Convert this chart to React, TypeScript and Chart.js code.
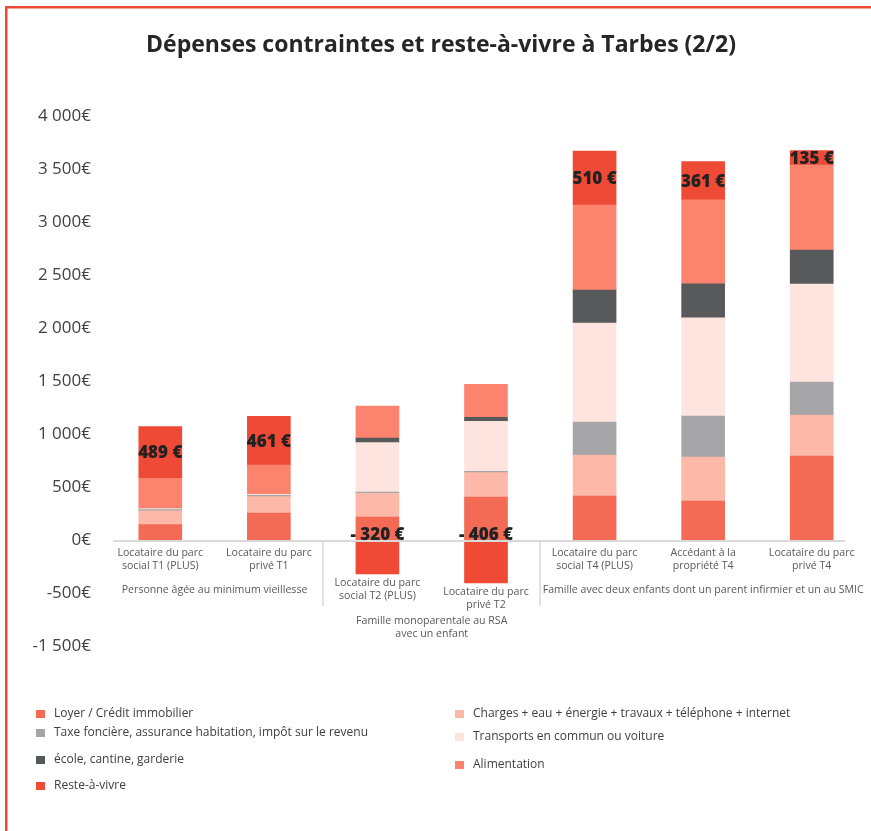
import React, { useEffect, useRef } from "react";
import { Chart, registerables } from "chart.js";

Chart.register(...registerables);

const TITLE = "Dépenses contraintes et reste-à-vivre à Tarbes (2/2)";

const categories: string[][] = [
  ["Locataire du parc", "social T1 (PLUS)"],
  ["Locataire du parc", "privé T1"],
  ["Locataire du parc", "social T2 (PLUS)"],
  ["Locataire du parc", "privé T2"],
  ["Locataire du parc", "social T4 (PLUS)"],
  ["Accédant à la", "propriété T4"],
  ["Locataire du parc", "privé T4"],
];

const groupLabels: string[][] = [
  ["Personne âgée au minimum vieillesse"],
  ["Famille monoparentale au RSA", "avec un enfant"],
  ["Famille avec deux enfants dont un parent infirmier et un au SMIC"],
];
const groupStart = [0, 2, 4];
const groupEnd = [1, 3, 6];

const seriesNames = [
  "Loyer / Crédit immobilier",
  "Charges + eau + énergie + travaux + téléphone + internet",
  "Taxe foncière, assurance habitation, impôt sur le revenu",
  "Transports en commun ou voiture",
  "école, cantine, garderie",
  "Alimentation",
  "Reste-à-vivre",
];
const seriesColors = ["#F36A55", "#FDB8A8", "#A6A6A8", "#FEE4DF", "#58595B", "#FC846E", "#EE4A36"];

const loyer = [145, 255, 217, 406, 415, 368, 792];
const charges = [130, 154, 224, 229, 387, 415, 387];
const taxe = [12, 13, 12, 12, 311, 387, 311];
const transports = [10, 10, 465, 472, 934, 925, 925];
const ecole = [0, 0, 44, 38, 311, 321, 321];
const alimentation = [285, 274, 302, 311, 802, 792, 802];
const resteAVivre = [489, 461, -320, -406, 510, 361, 135];

const yTickValues = [-1000, -500, 0, 500, 1000, 1500, 2000, 2500, 3000, 3500, 4000];
const yTickLabels = ["-1 500€", "-500€", "0€", "500€", "1 000€", "1 500€", "2 000€", "2 500€", "3 000€", "3 500€", "4 000€"];

const FONT = "'Open Sans', 'Noto Sans', sans-serif";

// legend slot positions (layout only), indexed by dataset
const legendX = [36, 455, 36, 455, 36, 455, 36];
const legendY = [714, 714, 733, 737, 760, 765, 786];

const decorPlugin = {
  id: "decor",
  afterDraw(chart: any) {
    const ctx = chart.ctx as CanvasRenderingContext2D;
    const xs = chart.scales.x;
    const ys = chart.scales.y;
    const y0 = ys.getPixelForValue(0);
    ctx.save();

    // frame
    ctx.fillStyle = "#EE4B36";
    ctx.fillRect(5, 6, 866, 2.5);
    ctx.fillRect(5, 6, 2.5, 831);

    // title
    ctx.fillStyle = "#262626";
    ctx.font = `bold 23px ${FONT}`;
    ctx.textAlign = "center";
    ctx.textBaseline = "middle";
    ctx.fillText(TITLE, 441, 45);

    // zero axis line
    ctx.fillStyle = "#D9D9D9";
    ctx.fillRect(113, y0, 732, 2);

    // category labels
    ctx.font = `10.6px ${FONT}`;
    ctx.fillStyle = "#595959";
    const lastLineY: number[] = [];
    categories.forEach((lines, i) => {
      const x = xs.getPixelForValue(i);
      const neg = resteAVivre[i] < 0 ? ys.getPixelForValue(resteAVivre[i]) : y0;
      const top = Math.max(y0 + 13, neg + 9);
      lines.forEach((l, k) => ctx.fillText(l, x, top + k * 13));
      lastLineY.push(top + (lines.length - 1) * 13);
    });

    // group labels and separators
    groupLabels.forEach((lines, g) => {
      const a = xs.getPixelForValue(groupStart[g]);
      const b = xs.getPixelForValue(groupEnd[g]);
      const cx = (a + b) / 2;
      let maxY = 0;
      for (let i = groupStart[g]; i <= groupEnd[g]; i++) maxY = Math.max(maxY, lastLineY[i]);
      const gy = Math.max(y0 + 50, maxY + 16);
      lines.forEach((l, k) => ctx.fillText(l, cx, gy + k * 13));
      if (g > 0) {
        const sx = (xs.getPixelForValue(groupStart[g] - 1) + a) / 2;
        ctx.fillStyle = "#D9D9D9";
        ctx.fillRect(sx - 1, y0, 1.5, 66);
        ctx.fillStyle = "#595959";
      }
    });

    // reste-à-vivre value labels
    const meta = chart.getDatasetMeta(6);
    ctx.font = `800 17px ${FONT}`;
    ctx.fillStyle = "#222222";
    meta.data.forEach((el: any, i: number) => {
      const v = resteAVivre[i];
      const txt = v < 0 ? `- ${Math.abs(v)} €` : `${v} €`;
      const y = v < 0 ? y0 - 6 : (el.y + el.base) / 2;
      ctx.fillText(txt, el.x, y + 1);
    });

    // legend
    ctx.font = `12px ${FONT}`;
    ctx.textAlign = "left";
    seriesNames.forEach((name, i) => {
      ctx.fillStyle = seriesColors[i];
      ctx.fillRect(legendX[i], legendY[i] - 4, 9, 8);
      ctx.fillStyle = "#404040";
      ctx.fillText(name, legendX[i] + 18, legendY[i]);
    });
    ctx.restore();
  },
};

export default function App() {
  const ref = useRef<HTMLCanvasElement | null>(null);
  useEffect(() => {
    if (!ref.current) return;
    const series = [loyer, charges, taxe, transports, ecole, alimentation, resteAVivre];
    const chart = new Chart(ref.current, {
      type: "bar",
      data: {
        labels: categories.map((c) => c.join(" ")),
        datasets: series.map((d, i) => ({
          label: seriesNames[i],
          data: d,
          backgroundColor: seriesColors[i],
          borderWidth: 0,
          barThickness: 43,
        })),
      },
      options: {
        responsive: false,
        animation: false,
        events: [],
        layout: { padding: { top: 116, bottom: 185, left: 0, right: 5 } },
        plugins: {
          legend: { display: false },
          title: { display: false },
          tooltip: { enabled: false },
        },
        scales: {
          x: { stacked: true, display: false },
          y: {
            stacked: true,
            min: -1000,
            max: 4000,
            afterFit: (s: any) => {
              s.width = 106;
            },
            afterBuildTicks: (s: any) => {
              s.ticks = yTickValues.map((v) => ({ value: v }));
            },
            grid: { display: false, drawTicks: false },
            border: { display: false },
            ticks: {
              padding: 15,
              color: "#404040",
              font: { family: FONT, size: 17 },
              callback: (v: any) => yTickLabels[yTickValues.indexOf(Number(v))],
            },
          },
        },
      },
      plugins: [decorPlugin],
    });
    return () => chart.destroy();
  }, []);
  return (
    <div style={{ position: "fixed", left: 0, top: 0, width: 871, height: 831, background: "#fff" }}>
      <canvas ref={ref} width={871} height={831} style={{ width: 871, height: 831 }} />
    </div>
  );
}
